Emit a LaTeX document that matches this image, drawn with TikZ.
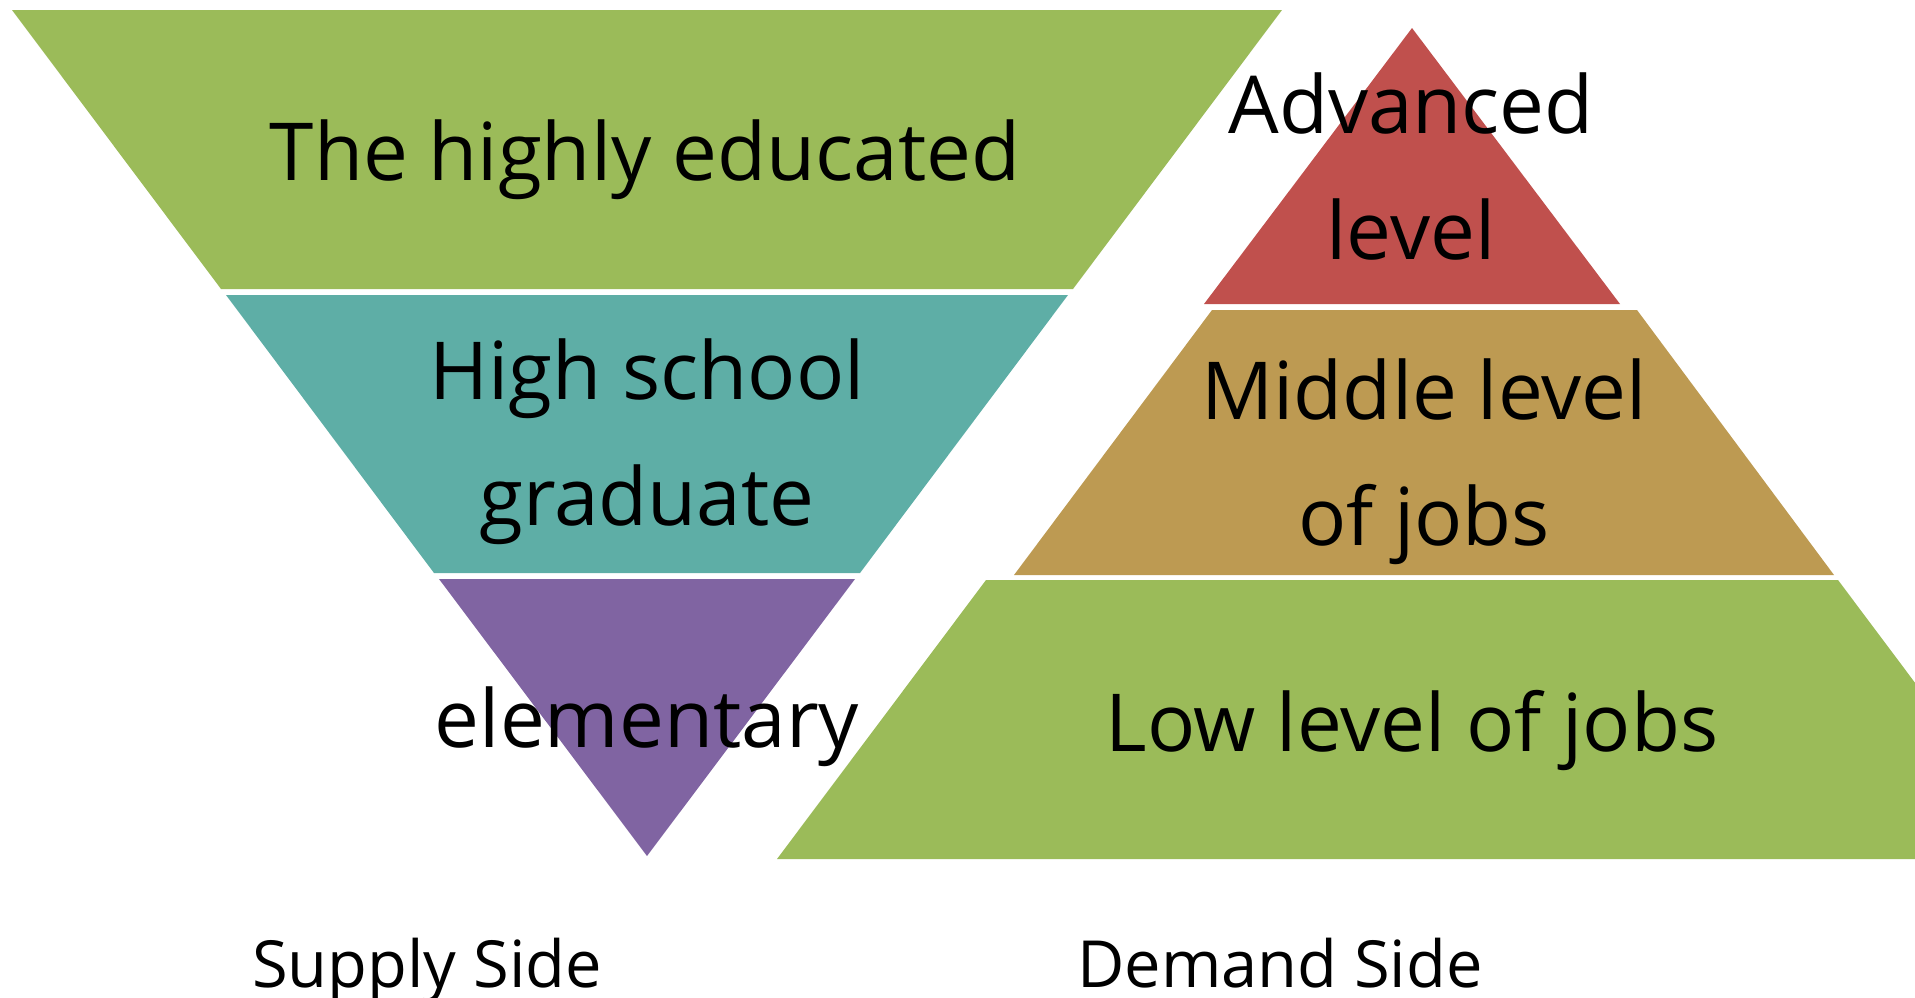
\documentclass[tikz,border=0pt]{standalone}
\usepackage{fontspec}
\setmainfont{Open Sans}
\definecolor{oliveband}{HTML}{9BBB59}
\definecolor{tealband}{HTML}{5EAEA6}
\definecolor{purpleband}{HTML}{8064A2}
\definecolor{redband}{HTML}{C0504D}
\definecolor{tanband}{HTML}{BD9A52}
\tikzset{
  bandtext/.style={anchor=base, align=center, font=\fontsize{40}{63}\selectfont},
  sidetext/.style={anchor=base, font=\fontsize{32.5}{39}\selectfont}
}
\begin{document}
\begin{tikzpicture}[x=0.5pt, y=-0.5pt]
    \useasboundingbox (0,0) rectangle (1915,997);
    % supply side, upside down
    \fill [oliveband] (12,10) -- (1282,10) -- (1073,289) -- (221,289) -- cycle;
    \fill [tealband] (226,295) -- (1068,295) -- (860,573) -- (434,573) -- cycle;
    \fill [purpleband] (439,579) -- (855,579) -- (647,856) -- cycle;
    % demand side
    \fill [redband] (1412,28) -- (1620,304) -- (1204,304) -- cycle;
    \fill [tanband] (1212,310) -- (1637,310) -- (1834,575) -- (1014,575) -- cycle;
    \fill [oliveband] (986,580) -- (1838,580) -- (2047,859) -- (777,859) -- cycle;
    % base anchor sits on the last line
    \node [bandtext] (educated) at (645,180) {The highly educated};
    \node [bandtext] (school) at (647,525) {High school\\graduate};
    \node [bandtext] (elementary) at (647,747) {elementary};
    \node [bandtext] (advanced) at (1411,259) {Advanced\\level};
    \node [bandtext] (middle) at (1424,545) {Middle level\\of jobs};
    \node [bandtext] (low) at (1412,751) {Low level of jobs};
    \node [sidetext] (supply) at (427,987) {Supply Side};
    \node [sidetext] (demand) at (1280,987) {Demand Side};
\end{tikzpicture}
\end{document}
